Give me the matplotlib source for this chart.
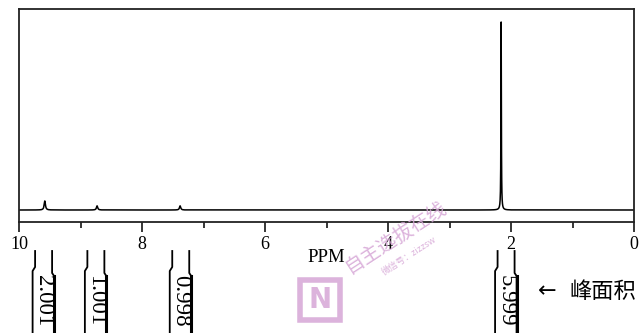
import numpy as np
import matplotlib
matplotlib.use("Agg")
import matplotlib.pyplot as plt
from matplotlib.patches import Rectangle

# ---- data ----
peak_ppm = [9.58, 8.73, 7.38, 2.16]
peak_height = [0.048, 0.022, 0.022, 1.0]
integral_ppm = [9.60, 8.75, 7.37, 2.08]
integral_values = ["2.001", "1.001", "0.998", "5.999"]
major_ticks = [10, 8, 6, 4, 2, 0]
minor_ticks = [9, 7, 5, 3, 1]
xlabel = "PPM"
note_text = "峰面积"

W, H = 639, 333
fig = plt.figure(figsize=(W / 100, H / 100), dpi=100)
fig.patch.set_facecolor("white")

serif = ["Liberation Serif", "DejaVu Serif"]

# main spectrum axes
x0, x1 = 19, 634
ytop, ybot = 9, 222
ax = fig.add_axes([x0 / W, 1 - ybot / H, (x1 - x0) / W, (ybot - ytop) / H])
ppm = np.linspace(0, 10, 20001)
spec = np.zeros_like(ppm)
for c, h in zip(peak_ppm, peak_height):
    g = 0.004 if h > 0.5 else 0.012
    spec += h * g**2 / ((ppm - c) ** 2 + g**2)
ax.plot(ppm, spec, color="black", lw=1.1)
ax.set_xlim(10, 0)
R = 213 / 188
ax.set_ylim(-12 / 213 * R, R - 12 / 213 * R)
ax.set_yticks([])
ax.set_xticks(major_ticks)
ax.set_xticks(minor_ticks, minor=True)
ax.set_xticklabels([str(t) for t in major_ticks], fontfamily=serif, fontsize=13)
ax.tick_params(axis="x", which="major", direction="out", length=7, width=1.1, pad=3)
ax.tick_params(axis="x", which="minor", direction="out", length=4, width=1.1)
for s in ax.spines.values():
    s.set_linewidth(1.3)
    s.set_color("#222222")

fig.text(326 / W, 1 - 257 / H, xlabel, fontfamily=serif, fontsize=13.5,
         ha="center", va="center")

# integral brackets axes (pixel units in y, ppm in x)
ai = fig.add_axes([x0 / W, 0, (x1 - x0) / W, (H - 240) / H])
ai.set_xlim(10, 0)
ai.set_ylim(H - 240, 0)
ai.axis("off")
pxppm = (x1 - x0) / 10.0
for c, v in zip(integral_ppm, integral_values):
    d = lambda px: px / pxppm  # px to ppm (x axis reversed)
    # left line
    ai.plot([c + d(8.5), c + d(8.5), c + d(11), c + d(11)],
            [11, 27, 31, 95], color="black", lw=1.3)
    # right line
    ai.plot([c - d(8.5), c - d(8.5), c - d(10.5), c - d(10.5)],
            [11, 33, 36, 95], color="black", lw=1.3)
    ai.plot([c - d(10.5), c - d(10.5)], [36, 95], color="black", lw=2.2)
    ai.text(c, 35, v, rotation=-90, ha="center", va="top",
            fontfamily=serif, fontsize=16.5)

# annotation arrow + label
fig.text(547 / W, 1 - 291 / H, "←", fontfamily=["DejaVu Sans"], fontsize=16,
         ha="center", va="center")
fig.text(569 / W, 1 - 291 / H, note_text, fontfamily=["Noto Sans CJK SC"],
         fontsize=16, ha="left", va="center")

# faint watermark
pink = "#d6a6d6"
fig.text(396 / W, 1 - 237 / H, "自主选拔在线", fontfamily=["Noto Sans CJK SC"],
         fontsize=14, color=pink, rotation=33, ha="center", va="center", alpha=0.85)
fig.text(409 / W, 1 - 256 / H, "微信号：zizzsw", fontfamily=["Noto Sans CJK SC", "DejaVu Sans"],
         fontsize=6.5, color=pink, rotation=33, ha="center", va="center", alpha=0.85)
fig.patches.append(Rectangle((300 / W, 1 - 320 / H), 40 / W, 40 / H,
                             transform=fig.transFigure, fill=False,
                             edgecolor=pink, lw=4, alpha=0.85))
fig.text(320 / W, 1 - 300 / H, "N", fontfamily=["DejaVu Sans"], fontsize=20,
         color=pink, ha="center", va="center", alpha=0.85, fontweight="bold")

fig.savefig("out.png", dpi=100)
